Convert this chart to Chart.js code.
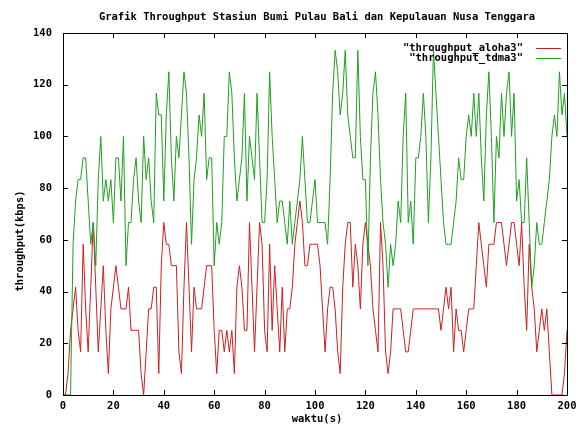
<!DOCTYPE html>
<html>
<head>
<meta charset="utf-8">
<script src="https://cdn.jsdelivr.net/npm/chart.js@4"></script>
<style>
  html, body { margin: 0; padding: 0; background: #fff; }
</style>
</head>
<body>
<canvas id="myChart" width="582" height="432"></canvas>
<script>
// waktu (s): one sample per second, 0..200
const waktu = Array.from({ length: 201 }, (_, i) => i);

const aloha3 = [
  0, 0, 8.3, 25, 33.3, 41.7, 25, 16.7, 58.3, 33.3,
  16.7, 41.7, 66.7, 41.7, 16.7, 33.3, 50, 25, 8.3, 33.3,
  41.7, 50, 41.7, 33.3, 33.3, 33.3, 41.7, 25, 25, 25,
  25, 8.3, 0, 16.7, 33.3, 33.3, 41.7, 41.7, 8.3, 50,
  66.7, 58.3, 58.3, 50, 50, 50, 16.7, 8.3, 41.7, 66.7,
  41.7, 16.7, 41.7, 33.3, 33.3, 33.3, 41.7, 50, 50, 50,
  25, 8.3, 25, 25, 16.7, 25, 16.7, 25, 8.3, 41.7,
  50, 41.7, 25, 25, 66.7, 41.7, 16.7, 41.7, 66.7, 58.3,
  25, 16.7, 58.3, 25, 50, 33.3, 16.7, 41.7, 16.7, 33.3,
  33.3, 41.7, 58.3, 66.7, 75, 66.7, 50, 50, 58.3, 58.3,
  58.3, 58.3, 50, 33.3, 16.7, 33.3, 41.7, 41.7, 33.3, 16.7,
  8.3, 41.7, 58.3, 66.7, 66.7, 41.7, 58.3, 50, 33.3, 58.3,
  66.7, 58.3, 50, 33.3, 25, 16.7, 66.7, 50, 16.7, 8.3,
  16.7, 33.3, 33.3, 33.3, 33.3, 25, 16.7, 16.7, 25, 33.3,
  33.3, 33.3, 33.3, 33.3, 33.3, 33.3, 33.3, 33.3, 33.3, 33.3,
  25, 33.3, 41.7, 33.3, 41.7, 16.7, 33.3, 25, 25, 16.7,
  25, 33.3, 33.3, 33.3, 50, 66.7, 58.3, 50, 41.7, 58.3,
  58.3, 58.3, 66.7, 66.7, 66.7, 58.3, 50, 58.3, 66.7, 66.7,
  58.3, 50, 66.7, 41.7, 25, 58.3, 41.7, 33.3, 16.7, 25,
  33.3, 25, 33.3, 16.7, 0, 0, 0, 0, 0, 8.3,
  25
];

const tdma3 = [
  0, 0, 0, 0, 58.3, 75, 83.3, 83.3, 91.7, 91.7,
  75, 58.3, 66.7, 50, 83.3, 100, 75, 83.3, 75, 83.3,
  66.7, 91.7, 91.7, 75, 100, 50, 66.7, 66.7, 83.3, 91.7,
  75, 66.7, 100, 83.3, 91.7, 75, 66.7, 116.7, 108.3, 108.3,
  75, 108.3, 125, 91.7, 75, 100, 91.7, 108.3, 125, 116.7,
  91.7, 58.3, 83.3, 91.7, 108.3, 100, 116.7, 83.3, 91.7, 91.7,
  50, 66.7, 58.3, 66.7, 100, 100, 125, 116.7, 91.7, 75,
  83.3, 91.7, 116.7, 75, 100, 91.7, 83.3, 116.7, 91.7, 66.7,
  66.7, 83.3, 125, 100, 83.3, 66.7, 75, 75, 66.7, 58.3,
  75, 58.3, 66.7, 75, 83.3, 100, 83.3, 66.7, 66.7, 75,
  83.3, 66.7, 66.7, 66.7, 66.7, 58.3, 83.3, 116.7, 133.3, 125,
  108.3, 116.7, 133.3, 108.3, 100, 91.7, 91.7, 133.3, 100, 83.3,
  83.3, 50, 91.7, 116.7, 125, 108.3, 83.3, 66.7, 58.3, 41.7,
  58.3, 50, 58.3, 75, 66.7, 100, 116.7, 66.7, 75, 58.3,
  91.7, 91.7, 100, 116.7, 100, 66.7, 91.7, 133.3, 116.7, 100,
  83.3, 66.7, 58.3, 58.3, 58.3, 66.7, 75, 91.7, 83.3, 83.3,
  100, 108.3, 100, 116.7, 100, 116.7, 91.7, 75, 108.3, 125,
  100, 66.7, 100, 91.7, 116.7, 100, 116.7, 125, 100, 116.7,
  75, 83.3, 66.7, 66.7, 91.7, 66.7, 41.7, 50, 66.7, 58.3,
  58.3, 66.7, 75, 83.3, 100, 108.3, 100, 125, 108.3, 116.7,
  100
];

const xTicks = [0, 20, 40, 60, 80, 100, 120, 140, 160, 180, 200];
const yTicks = [0, 20, 40, 60, 80, 100, 120, 140];

const RED = '#cc1f1f';
const GREEN = '#1f9f1f';
const FONT = 'bold 10.5px "DejaVu Sans Mono", monospace';

// gnuplot look: frame, inward ticks on all four sides, title, labels, key
const gnuplotDecor = {
  id: 'gnuplotDecor',
  afterDraw(chart) {
    const ctx = chart.ctx;
    const a = chart.chartArea;
    const xs = chart.scales.x;
    const ys = chart.scales.y;
    ctx.save();
    ctx.strokeStyle = '#000';
    ctx.lineWidth = 1;
    ctx.beginPath();
    ctx.rect(Math.round(a.left) + 0.5, Math.round(a.top) + 0.5,
             Math.round(a.right - a.left), Math.round(a.bottom - a.top));
    ctx.stroke();

    const t = 5;
    ctx.beginPath();
    xTicks.forEach(v => {
      const px = Math.round(xs.getPixelForValue(v)) + 0.5;
      ctx.moveTo(px, a.bottom); ctx.lineTo(px, a.bottom - t);
      ctx.moveTo(px, a.top); ctx.lineTo(px, a.top + t);
    });
    yTicks.forEach(v => {
      const py = Math.round(ys.getPixelForValue(v)) + 0.5;
      ctx.moveTo(a.left, py); ctx.lineTo(a.left + t, py);
      ctx.moveTo(a.right, py); ctx.lineTo(a.right - t, py);
    });
    ctx.stroke();

    ctx.fillStyle = '#000';
    ctx.font = FONT;
    ctx.textBaseline = 'middle';
    ctx.textAlign = 'center';
    ctx.fillText('Grafik Throughput Stasiun Bumi Pulau Bali dan Kepulauan Nusa Tenggara', 317, 17);
    ctx.fillText('waktu(s)', 317, 419);

    ctx.save();
    ctx.translate(20, 241);
    ctx.rotate(-Math.PI / 2);
    ctx.fillText('throughput(kbps)', 0, 0);
    ctx.restore();

    // key
    const rows = [
      { label: '"throughput_aloha3"', color: RED, y: 48 },
      { label: '"throughput_tdma3"', color: GREEN, y: 58 }
    ];
    ctx.textAlign = 'right';
    rows.forEach(r => {
      ctx.fillStyle = '#000';
      ctx.fillText(r.label, 523, r.y);
      ctx.strokeStyle = r.color;
      ctx.beginPath();
      ctx.moveTo(536, r.y + 0.5);
      ctx.lineTo(561, r.y + 0.5);
      ctx.stroke();
    });
    ctx.restore();
  }
};

const data = {
  datasets: [{
    label: 'throughput_aloha3',
    data: waktu.map((x, i) => ({ x: x, y: aloha3[i] })),
    borderColor: RED,
    order: 2
  }, {
    label: 'throughput_tdma3',
    data: waktu.map((x, i) => ({ x: x, y: tdma3[i] })),
    borderColor: GREEN,
    order: 1
  }]
};

const config = {
  type: 'line',
  data: data,
  options: {
    responsive: false,
    animation: false,
    layout: { padding: { top: 33, right: 15, left: 0, bottom: 0 } },
    elements: {
      line: { borderWidth: 1, tension: 0 },
      point: { radius: 0 }
    },
    plugins: {
      legend: { display: false },
      title: { display: false },
      tooltip: { enabled: false }
    },
    scales: {
      x: {
        type: 'linear',
        min: 0,
        max: 200,
        afterBuildTicks: s => { s.ticks = xTicks.map(v => ({ value: v })); },
        afterFit: s => { s.height = 37; },
        grid: { display: false, drawTicks: false },
        border: { display: false },
        ticks: {
          padding: 5,
          color: '#000',
          maxRotation: 0,
          font: { family: '"DejaVu Sans Mono", monospace', size: 10.5, weight: 'bold' }
        }
      },
      y: {
        min: 0,
        max: 140,
        afterBuildTicks: s => { s.ticks = yTicks.map(v => ({ value: v })); },
        afterFit: s => { s.width = 63; },
        grid: { display: false, drawTicks: false },
        border: { display: false },
        ticks: {
          padding: 11,
          color: '#000',
          font: { family: '"DejaVu Sans Mono", monospace', size: 10.5, weight: 'bold' }
        }
      }
    }
  },
  plugins: [gnuplotDecor]
};

const chart = new Chart(document.getElementById('myChart'), config);
</script>
</body>
</html>
